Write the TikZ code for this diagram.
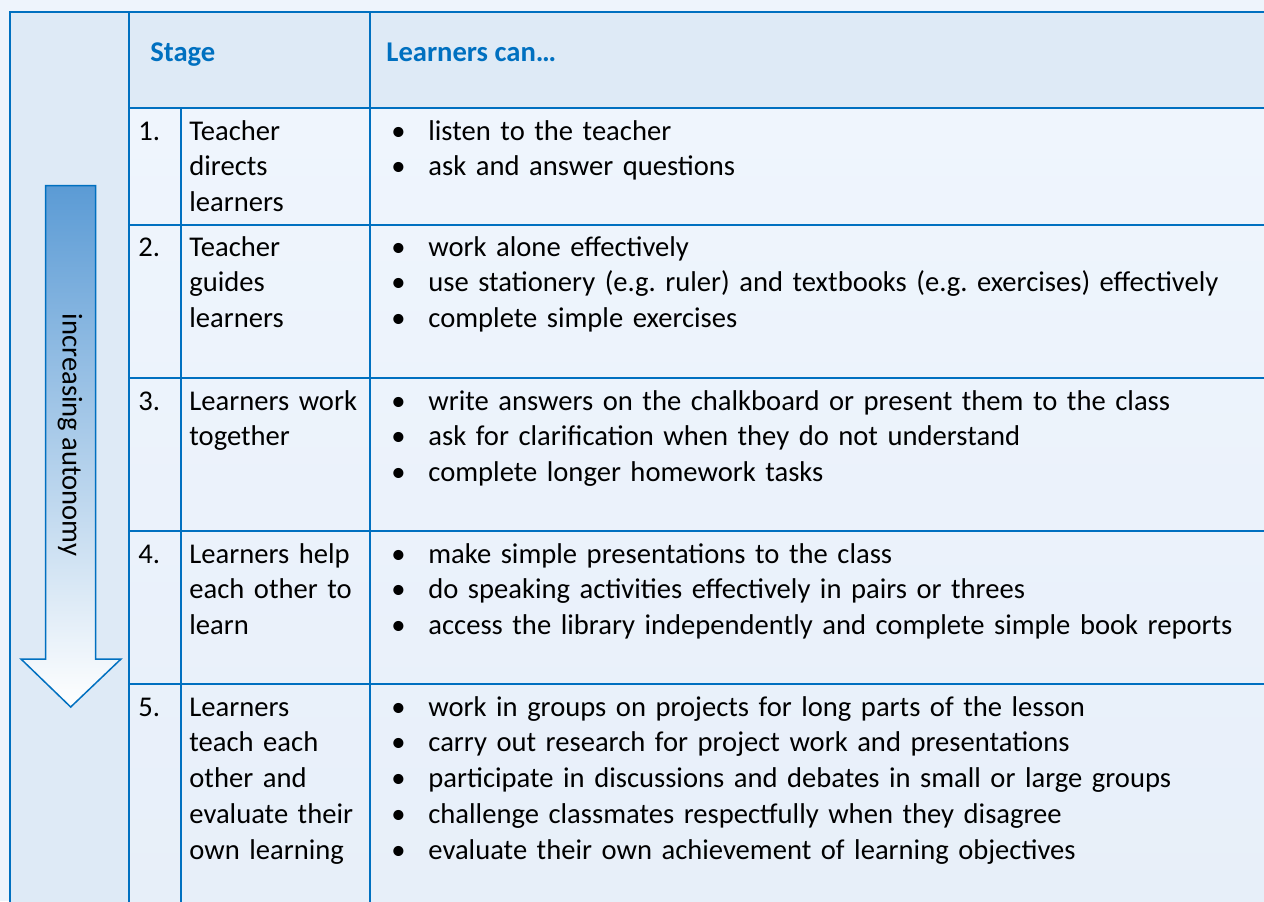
\documentclass[tikz,border=0pt]{standalone}
\usepackage{fontspec}
\setmainfont{Carlito}
\usepackage{tikz}
\definecolor{tableblue}{HTML}{0070C0}
\definecolor{pageback}{HTML}{EEF4FC}
\definecolor{headback}{HTML}{DEEAF6}
\definecolor{rowtop}{HTML}{EFF5FD}
\definecolor{rowbottom}{HTML}{E7EFF9}
\definecolor{arrowtop}{HTML}{5B9BD5}
\newcommand\itembul{\makebox[18.5pt][l]{\textbullet}}
\newcommand\cellfont{\fontsize{14.3}{17.9}\selectfont\frenchspacing}

\begin{document}
\begin{tikzpicture}[x=0.5pt,y=-0.5pt,
  gridline/.style={draw=tableblue,line width=1.1pt},
  headtext/.style={anchor=base west,inner sep=0pt,font=\cellfont\bfseries,text=tableblue},
  numtext/.style={anchor=base west,inner sep=0pt,font=\cellfont},
  stagetext/.style={anchor=base west,inner sep=0pt,font=\cellfont,text width=88pt,align=left},
  listtext/.style={anchor=base west,inner sep=0pt,font=\cellfont,text width=440pt,align=left}]
\useasboundingbox (0,0) rectangle (1264,901);
\clip (0,0) rectangle (1264,901);
\fill[pageback] (0,0) rectangle (1264,901);
\fill[headback] (10,12) rectangle (129,920);
\fill[headback] (129,12) rectangle (1280,108);
\shade[top color=rowtop,bottom color=rowbottom] (129,108) rectangle (1280,920);
% table rules
\draw[gridline] (10,920) -- (10,12) -- (1280,12);
\draw[gridline] (129,12) -- (129,920);
\draw[gridline] (370,12) -- (370,920);
\draw[gridline] (181,108) -- (181,920);
\foreach \y in {108,225,378,531,684}
  \draw[gridline] (129,\y) -- (1280,\y);

% arrow
\shadedraw[top color=arrowtop,bottom color=white,draw=tableblue,line width=0.75pt]
  (45.7,185.7) -- (95.7,185.7) -- (95.7,659) -- (121,659) -- (70.7,707)
  -- (21,659) -- (45.7,659) -- cycle;
\node[rotate=-90,font=\cellfont,inner sep=0pt] (autonomy) at (70,435) {increasing autonomy};

% header
\node[headtext] (stagehead) at (150,61) {Stage};
\node[headtext] (learnhead) at (386,61) {Learners can…};

% stage numbers
\foreach \n/\y in {1/140,2/256,3/410,4/563,5/716}
  \node[numtext] (num\n) at (138,\y) {\n.};

% stages
\node[stagetext] (stage1) at (189,140) {Teacher\\directs\\learners};
\node[stagetext] (stage2) at (189,256) {Teacher\\guides\\learners};
\node[stagetext] (stage3) at (189,410) {Learners work\\together};
\node[stagetext] (stage4) at (189,563) {Learners help\\each other to\\learn};
\node[stagetext] (stage5) at (189,716) {Learners\\teach each\\other and\\evaluate their\\own learning};

% what learners can do
\node[listtext] (list1) at (391,140) {\itembul listen to the teacher\\
  \itembul ask and answer questions};
\node[listtext] (list2) at (391,256) {\itembul work alone effectively\\
  \itembul use stationery (e.g. ruler) and textbooks (e.g. exercises) effectively\\
  \itembul complete simple exercises};
\node[listtext] (list3) at (391,410) {\itembul write answers on the chalkboard or present them to the class\\
  \itembul ask for clarification when they do not understand\\
  \itembul complete longer homework tasks};
\node[listtext] (list4) at (391,563) {\itembul make simple presentations to the class\\
  \itembul do speaking activities effectively in pairs or threes\\
  \itembul access the library independently and complete simple book reports};
\node[listtext] (list5) at (391,716) {\itembul work in groups on projects for long parts of the lesson\\
  \itembul carry out research for project work and presentations\\
  \itembul participate in discussions and debates in small or large groups\\
  \itembul challenge classmates respectfully when they disagree\\
  \itembul evaluate their own achievement of learning objectives};
\end{tikzpicture}
\end{document}
